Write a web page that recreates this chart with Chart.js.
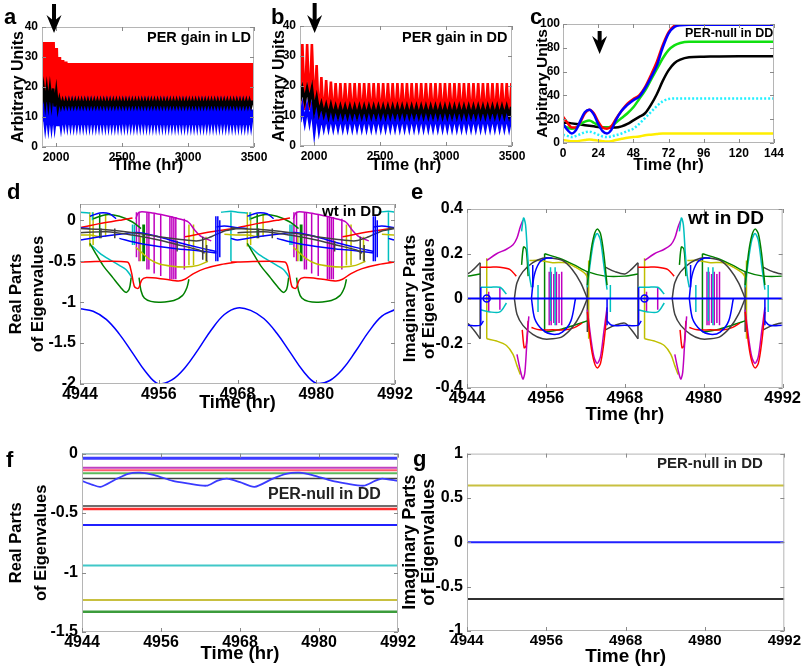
<!DOCTYPE html>
<html>
<head>
<meta charset="utf-8">
<script src="https://cdn.jsdelivr.net/npm/chart.js@4.4.1/dist/chart.umd.min.js"></script>
<style>
  body { margin: 0; background: #fff; width: 802px; height: 671px; position: relative; overflow: hidden;
         font-family: "Liberation Sans", Arial, Helvetica, sans-serif; }
  canvas { position: absolute; }
  .lbl { position: absolute; font-weight: bold; line-height: 1; white-space: nowrap; color: #000; }
</style>
</head>
<body>
<canvas id="pa"></canvas>
<canvas id="pb"></canvas>
<canvas id="pc"></canvas>
<canvas id="pd"></canvas>
<canvas id="pe"></canvas>
<canvas id="pf"></canvas>
<canvas id="pg"></canvas>

<div class="lbl" style="left:4px;top:6px;font-size:22px">a</div>
<div class="lbl" style="left:271px;top:6px;font-size:22px">b</div>
<div class="lbl" style="left:530px;top:6px;font-size:22px">c</div>
<div class="lbl" style="left:7px;top:181px;font-size:22px">d</div>
<div class="lbl" style="left:411px;top:181px;font-size:22px">e</div>
<div class="lbl" style="left:6px;top:449px;font-size:22px">f</div>
<div class="lbl" style="left:413px;top:448px;font-size:22px">g</div>

<div class="lbl" style="left:147px;top:30px;font-size:14.5px">PER gain in LD</div>
<div class="lbl" style="left:402px;top:30px;font-size:14.5px">PER gain in DD</div>
<div class="lbl" style="left:685px;top:27px;font-size:12.5px">PER-null in DD</div>
<div class="lbl" style="left:322px;top:203px;font-size:15px">wt in DD</div>
<div class="lbl" style="left:688px;top:208px;font-size:19px">wt in DD</div>
<div class="lbl" style="left:268px;top:486px;font-size:16px;color:#222">PER-null in DD</div>
<div class="lbl" style="left:657px;top:455px;font-size:15px;color:#222">PER-null in DD</div>

<script>
// ---------- a: PER gain in LD (peak / trough per 24 h cycle, last value holds) ----------
const aStart = 1894, aPeriod = 24, aCycles = 67;
const aRedPeaks     = [35, 35, 35, 35, 33, 30, 29, 28.5, 28];
const aRedTroughs   = [13, 13, 13, 13, 13, 11.5, 13, 13.5, 14];
const aBlackPeaks   = [19.5, 19.5, 19.5, 19.5, 18.5, 16, 15.5, 15.5];
const aBlackTroughs = [14.5, 14.5, 14.5, 14.5, 13.5, 13, 13.5, 13.5];
const aBluePeaks    = [13.5, 13.5, 13.5, 13.5, 13, 12, 12, 12.5];
const aBlueTroughs  = [8.5, 8.5, 8.5, 8.5, 8.5, 7, 8, 8.5];

// ---------- b: PER gain in DD ----------
const bStart = 1894, bPeriod = 36, bCycles = 45;
const bRedPeaks     = [34, 34, 34, 27, 23, 22, 21.5, 21];
const bRedTroughs   = [12, 12, 12, 12, 8, 8.5, 9, 9];
const bBlackPeaks   = [19, 19, 19, 16, 14, 13.5, 13.5, 13];
const bBlackTroughs = [15, 15, 15, 12, 11, 10.5, 10, 10];
const bBluePeaks    = [13, 13, 13, 12, 10, 10, 10];
const bBlueTroughs  = [8, 8, 8, 5, 5.5, 6, 6];

// ---------- c: PER-null in DD ----------
const cHours  = [0, 3, 6, 9, 12, 15, 18, 21, 24, 27, 30, 33, 36, 40, 44, 48, 52, 56, 60, 64, 68, 72, 76, 80, 86, 96, 120, 144];
const cRed    = [22, 17, 13, 13, 18, 25, 28, 25, 18, 13, 12, 14, 20, 27, 33, 37, 40, 47, 57, 68, 82, 93, 98.5, 100, 100, 100, 100, 100];
const cBlue   = [16, 11, 8, 11, 19, 26, 28, 24, 16, 10, 8, 11, 19, 27, 32, 36, 39, 46, 55, 65, 80, 92, 97.5, 99, 99.3, 99.3, 99.3, 99.3];
const cGreen  = [15, 13, 12, 13, 16, 18, 19, 17, 15, 13, 13, 14, 17, 21, 25, 30, 37, 44, 53, 62, 71, 78, 82, 84, 85, 85, 85, 85];
const cBlack  = [17, 17, 16.5, 16, 15.5, 15, 14.5, 14, 13.5, 13, 13, 13, 13, 14, 16, 19, 22, 25, 32, 41, 52, 61, 67, 70, 72, 72.5, 73, 73];
const cCyan   = [7, 6, 5, 6, 7.5, 9, 9.5, 8.5, 7, 5.5, 5, 5.5, 6.5, 8, 10, 12, 16, 21, 26, 31, 35, 37, 37.5, 37.5, 37.5, 37.5, 37.5, 37.5];
const cYellow = [2.5, 2, 1.5, 1.5, 2, 2.5, 3, 2.5, 2, 1.5, 1.2, 1.5, 2.5, 3.5, 4.5, 5, 5.5, 6.5, 7, 7.5, 8, 8, 8, 8, 8, 8, 8, 8];

// ---------- d: real parts, wt in DD (hours within one 24 h cycle from 4944) ----------
const dSineHours  = [4944, 4946, 4948, 4950, 4952, 4954, 4956, 4958, 4960, 4962, 4964, 4966, 4968, 4970, 4972, 4974, 4976, 4978, 4980, 4982, 4984, 4986, 4988, 4990, 4992];
const dSineValues = [-1.08, -1.11, -1.21, -1.39, -1.62, -1.85, -2.0, -1.95, -1.8, -1.58, -1.34, -1.15, -1.07, -1.1, -1.2, -1.38, -1.61, -1.84, -1.99, -1.96, -1.82, -1.6, -1.36, -1.17, -1.09];
const dRedLowH    = [-1, 0, 7.2, 7.8, 8.3, 8.9, 9.4, 10, 13, 15, 16, 17.3, 19, 21.5, 24];
const dRedLowV    = [-0.51, -0.51, -0.51, -0.62, -0.81, -0.83, -0.73, -0.7, -0.72, -0.74, -0.72, -0.65, -0.59, -0.54, -0.51];
const dGreenAH    = [1.5, 2.5, 3.5, 5, 6.2, 7, 7.5, 7.8];
const dGreenAV    = [-0.28, -0.42, -0.55, -0.7, -0.82, -0.88, -0.84, -0.7];
const dGreenBH    = [9.0, 9.3, 9.8, 10.8, 12.3, 14.3, 15.6, 16.3, 16.6];
const dGreenBV    = [-0.7, -0.86, -0.95, -0.99, -1.0, -0.98, -0.92, -0.82, -0.72];
const dCyanLowH   = [1.8, 3, 4.5, 6, 7, 7.5, 7.9];
const dCyanLowV   = [-0.31, -0.4, -0.48, -0.55, -0.6, -0.65, -0.7];
const dGrayAH     = [-1, 0, 3, 6, 9, 12, 15, 18, 20, 22, 24];
const dGrayAV     = [-0.09, -0.1, -0.11, -0.13, -0.16, -0.2, -0.23, -0.25, -0.2, -0.13, -0.1];
const dGrayBH     = [0, 4, 8, 12, 15, 18, 19];
const dGrayBV     = [-0.15, -0.14, -0.18, -0.24, -0.3, -0.36, -0.4];
const dBlueAH     = [-1, 0, 3, 6, 9, 12, 15, 18, 20.8];
const dBlueAV     = [-0.22, -0.24, -0.2, -0.17, -0.15, -0.2, -0.27, -0.33, -0.38];
const dBlueBH     = [6, 9, 12, 15, 18, 20.8];
const dBlueBV     = [-0.22, -0.28, -0.32, -0.35, -0.37, -0.4];
const dBlueCH     = [20.8, 22, 24, 25.5];
const dBlueCV     = [-0.08, -0.07, -0.09, -0.1];
const dBlueTopH   = [1.5, 3, 4.5, 5.5];
const dBlueTopV   = [0.05, 0.09, 0.08, 0.02];
const dMagTopH    = [8.5, 9, 11, 13, 15, 16.5, 17.5, 18.5, 20];
const dMagTopV    = [0.02, 0.1, 0.09, 0.06, 0.02, -0.02, -0.12, -0.2, -0.25];
const dOliveH     = [8.5, 9.5, 10.5, 12, 14, 16, 18, 19.5];
const dOliveV     = [-0.33, -0.4, -0.47, -0.53, -0.56, -0.57, -0.55, -0.5];
const dOliveTopH  = [-2, 0, 1.5, 3];
const dOliveTopV  = [-0.17, -0.18, -0.18, -0.2];
const dCyanTopH   = [21.5, 23, 24, 25.5];
const dCyanTopV   = [0.1, 0.11, 0.1, 0.09];
const dRedTopH    = [-8, -4, 0, 3, 6, 8];
const dRedTopV    = [-0.2, -0.14, -0.09, -0.04, 0.0, 0.03];
const dGreenTopH  = [2, 4, 6, 8, 9.3];
const dGreenTopV  = [0.02, 0.07, 0.05, -0.02, -0.1];
// vertical jumps: [hour, upper, lower]
const dMagStripes   = [[8.6, 0.1, -0.45], [9.0, 0.1, -0.5], [10.2, 0.09, -0.6], [10.5, 0.09, -0.6], [11.3, 0.08, -0.65], [12.3, 0.07, -0.68], [13.7, 0.05, -0.72], [14.0, 0.05, -0.72], [14.3, 0.04, -0.72], [14.6, 0.04, -0.72], [15.9, 0.02, -0.6]];
const dOliveStripes = [[1.5, 0.1, -0.32], [2.0, 0.1, -0.3], [3.9, 0.08, -0.2], [9.2, -0.2, -0.5], [16.6, -0.05, -0.55], [17.3, -0.05, -0.55], [19.2, -0.2, -0.5]];
const dGreenStripes = [[9.6, -0.05, -0.5], [9.8, -0.05, -0.5], [3.0, 0.08, -0.22]];
const dCyanStripes  = [[8.0, -0.05, -0.3], [8.3, -0.05, -0.3], [23.0, 0.1, -0.5], [1.9, 0.1, 0.0]];
const dBlueStripes  = [[20.7, 0.05, -0.5], [21.0, 0.05, -0.5], [21.3, 0.0, -0.45]];
const dGrayStripes  = [[3.2, -0.1, -0.22], [5.3, -0.1, -0.22], [14.8, -0.25, -0.38], [18.7, -0.2, -0.48], [19.3, -0.3, -0.5]];

// ---------- e: imaginary parts, wt in DD ----------
const eBlackTopH = [-3, -1.5, 0, 1, 2];
const eBlackTopV = [0.14, 0.12, 0.11, 0.13, 0.16];
const eBlackBotH = [-3, -1.5, 0, 1, 2];
const eBlackBotV = [-0.14, -0.12, -0.11, -0.14, -0.18];
const eRingH     = [7.2, 7.6, 8.5, 10, 11.5, 13, 14.5, 16, 17.3, 18.3];
const eRingTopV  = [0, 0.07, 0.12, 0.16, 0.18, 0.18, 0.17, 0.13, 0.07, 0];
const eRingBotV  = [0, -0.07, -0.12, -0.16, -0.18, -0.18, -0.17, -0.13, -0.07, 0];
const eBlueTopH  = [9.8, 10.2, 11, 12, 13];
const eBlueTopV  = [0, 0.1, 0.16, 0.18, 0.18];
const eBlueBotH  = [9.8, 10.3, 11.5, 13, 14.5, 15.8, 16.5];
const eBlueBotV  = [0, -0.09, -0.14, -0.16, -0.15, -0.1, 0];
const eBlueLowH  = [21.3, 22, 24, 26, 26.5];
const eBlueLowV  = [-0.1, -0.12, -0.12, -0.12, -0.1];
const eMagTopH   = [3, 4.5, 6, 7, 7.6, 8.1, 8.5];
const eMagTopV   = [0.17, 0.2, 0.22, 0.24, 0.27, 0.32, 0.35];
const eCyanSpkH  = [8.3, 8.6, 8.9, 9.2, 9.5, 9.8];
const eCyanSpkV  = [0.3, 0.36, 0.33, 0.2, 0.1, 0.05];
const eMagBotH   = [7.6, 8.1, 8.5, 8.8, 9.1, 9.4];
const eMagBotV   = [-0.25, -0.32, -0.36, -0.33, -0.2, -0.08];
const eOliveBotH = [3, 4.5, 6, 7, 7.6, 8.1];
const eOliveBotV = [-0.18, -0.19, -0.21, -0.25, -0.3, -0.34];
const eGreenSpkH = [8.3, 8.6, 9.0, 9.3];
const eGreenSpkV = [0.15, 0.23, 0.22, 0.1];
const eRedSpkH   = [8.4, 8.7, 9.0, 9.3];
const eRedSpkV   = [-0.14, -0.22, -0.21, -0.1];
const eLensH     = [18.3, 18.8, 19.3, 19.8, 20.3, 20.8, 21.3];
const eGreenLens = [0.06, 0.2, 0.28, 0.31, 0.29, 0.2, 0.06];
const eCyanLens  = [0.05, 0.17, 0.26, 0.29, 0.26, 0.15, 0.04];
const eRedLens   = [-0.06, -0.2, -0.28, -0.31, -0.29, -0.2, -0.06];
const eMagLens   = [-0.05, -0.17, -0.26, -0.29, -0.26, -0.15, -0.04];
const eOliveTopH = [9.5, 11, 13, 15, 16.5, 18, 18.5];
const eOliveTopV = [0.17, 0.17, 0.16, 0.16, 0.14, 0.11, 0.08];
const eRedTopH   = [2, 3.5, 5, 6.5, 7.5];
const eRedTopV   = [0.14, 0.14, 0.14, 0.13, 0.1];
const eRedBotH   = [9.8, 11, 13, 15, 16.3, 17.5];
const eRedBotV   = [-0.13, -0.14, -0.14, -0.14, -0.13, -0.11];
const eCyanMidH  = [2, 3.5, 5, 6];
const eCyanMidTV = [0.05, 0.05, 0.05, 0.02];
const eCyanMidBV = [-0.05, -0.06, -0.06, -0.02];
const eGreenTopH = [11.8, 14, 16.3, 18.3, 21, 24, 26];
const eGreenTopV = [0.2, 0.18, 0.15, 0.12, 0.1, 0.1, 0.11];
const eGreenBotH = [11.8, 14, 16.3, 18.3];
const eGreenBotV = [-0.15, -0.14, -0.12, -0.1];
const eRingHours = [3.0];
const eBlackStripes = [[2.0, 0.16, -0.18], [18.3, 0.12, -0.15]];
const eOliveStripes = [[3.0, 0.18, -0.18], [18.5, 0.17, -0.18]];
const eMagStripes   = [[12.5, 0.12, -0.12], [12.8, 0.12, -0.12], [13.2, 0.11, -0.11], [13.6, 0.12, -0.12], [14.0, 0.11, -0.11], [14.4, 0.12, -0.12], [3.3, 0.03, -0.06], [5.0, 0.05, -0.05]];
const eCyanStripes  = [[12.7, 0.14, -0.1], [13.4, 0.14, -0.12], [10.8, 0.06, -0.06], [21.8, 0.06, -0.06]];
const eBlueStripes  = [[2.1, 0.05, -0.12], [21.3, 0.0, -0.12], [10.0, 0.15, 0.05]];
const eGreenStripes = [[11.8, 0.2, -0.15]];

// ---------- f / g: PER-null in DD ----------
const fLevels = [0, -0.04, -0.12, -0.14, -0.165, -0.21, -0.44, -0.465, -0.6, -0.94, -1.23, -1.33];
const fWaveHours  = [4944, 4945.5, 4946.8, 4949, 4951, 4952.8, 4955, 4957.8, 4960, 4962.9, 4964.5, 4966, 4968, 4970.2, 4973, 4975, 4977, 4979, 4982, 4984, 4986.8, 4988.5, 4989.6, 4992];
const fWaveValues = [-0.23, -0.26, -0.28, -0.22, -0.17, -0.16, -0.18, -0.23, -0.25, -0.27, -0.23, -0.21, -0.24, -0.28, -0.21, -0.17, -0.16, -0.18, -0.23, -0.25, -0.27, -0.23, -0.21, -0.23];
const gLevels = [0.64, 0, -0.64];

// ---------- styling ----------
const FONT = '"Liberation Sans", Arial, Helvetica, sans-serif';
const RED = '#ff0000', BLUE = '#0000ff', GREEN = '#008000', CYAN = '#00bfbf',
      MAG = '#bf00bf', OLIVE = '#bfbf00', GRAY = '#404040';
const fColors = ['#3a9c9c', '#3d3dff', '#c040c0', '#ff5a6e', '#5cb85c', '#404040', '#404040', '#ff3030', '#2020ff', '#40c8c8', '#c8c040', '#3c9c3c'];
const fWidths = [1.5, 3, 2, 2, 2, 1.5, 1.5, 2.5, 2, 2, 2, 2.5];
const gColors = ['#c8c040', '#2020ff', '#303030'];

function cyclePoints(start, period, count, peaks, troughs) {
  const pts = [];
  for (let k = 0; k < count; k++) {
    const pk = peaks[Math.min(k, peaks.length - 1)];
    const tr = troughs[Math.min(k, troughs.length - 1)];
    pts.push({ x: start + k * period, y: tr });
    pts.push({ x: start + k * period + period / 2, y: pk });
  }
  return pts;
}

// the eigenvalue traces repeat every 24 h, so each cycle is laid down at every offset
const OFFSETS = [-24, 0, 24, 48];
function periodic(hours, values) {
  const pts = [];
  OFFSETS.forEach(o => {
    hours.forEach((h, i) => pts.push({ x: 4944 + o + h, y: values[i] }));
    pts.push({ x: 4944 + o + hours[hours.length - 1], y: null });
  });
  return pts;
}
function stripes(list) {
  const pts = [];
  OFFSETS.forEach(o => list.forEach(([h, top, bot]) => {
    pts.push({ x: 4944 + o + h, y: top }, { x: 4944 + o + h, y: bot }, { x: 4944 + o + h, y: null });
  }));
  return pts;
}
function pairs(xs, ys) { return xs.map((x, i) => ({ x, y: ys[i] })); }

function line(data, color, width, extra) {
  return Object.assign({ data, borderColor: color, backgroundColor: color, borderWidth: width,
    pointRadius: 0, fill: false, tension: 0, spanGaps: false }, extra || {});
}

const framePlugin = {
  id: 'frame',
  afterDatasetsDraw(chart) {
    const { ctx, chartArea: a, scales } = chart;
    ctx.save();
    ctx.strokeStyle = '#b5b5b5';
    ctx.lineWidth = 1;
    ctx.strokeRect(a.left + 0.5, a.top + 0.5, a.right - a.left - 1, a.bottom - a.top - 1);
    ctx.strokeStyle = '#8a8a8a';
    ctx.beginPath();
    scales.x.ticks.forEach(t => {
      const px = Math.round(scales.x.getPixelForValue(t.value)) + 0.5;
      ctx.moveTo(px, a.bottom); ctx.lineTo(px, a.bottom - 4);
      ctx.moveTo(px, a.top); ctx.lineTo(px, a.top + 4);
    });
    scales.y.ticks.forEach(t => {
      const py = Math.round(scales.y.getPixelForValue(t.value)) + 0.5;
      ctx.moveTo(a.left, py); ctx.lineTo(a.left + 4, py);
      ctx.moveTo(a.right, py); ctx.lineTo(a.right - 4, py);
    });
    ctx.stroke();
    ctx.restore();
  }
};

// heavy down arrow marking the change of conditions
const arrowPlugin = {
  id: 'arrowMark',
  afterDraw(chart, args, opts) {
    if (!opts || opts.x === undefined) return;
    const { ctx } = chart;
    const x = chart.scales.x.getPixelForValue(opts.x);
    ctx.save();
    ctx.fillStyle = '#000';
    ctx.fillRect(x - 2, opts.top, 4, opts.tip - opts.top - 10);
    ctx.beginPath();
    ctx.moveTo(x, opts.tip);
    ctx.lineTo(x - 7.5, opts.tip - 18);
    ctx.lineTo(x, opts.tip - 12);
    ctx.lineTo(x + 7.5, opts.tip - 18);
    ctx.closePath();
    ctx.fill();
    ctx.restore();
  }
};

function makePanel(id, box, plot, cfg) {
  const cv = document.getElementById(id);
  cv.width = box.w; cv.height = box.h;
  cv.style.left = box.x + 'px'; cv.style.top = box.y + 'px';
  cv.style.width = box.w + 'px'; cv.style.height = box.h + 'px';
  const fontOf = (size) => ({ family: FONT, size, weight: 'bold' });
  return new Chart(cv, {
    type: 'line',
    data: { datasets: cfg.datasets },
    options: {
      responsive: false, animation: false, devicePixelRatio: 1,
      layout: { padding: { top: plot.top - box.y, right: box.x + box.w - plot.right, left: 0, bottom: 0 } },
      plugins: { legend: { display: false }, tooltip: { enabled: false }, arrowMark: cfg.arrow || {} },
      scales: {
        x: {
          type: 'linear', min: cfg.xMin, max: cfg.xMax,
          afterFit: s => { s.height = box.y + box.h - plot.bottom; },
          afterBuildTicks: s => { s.ticks = cfg.xTicks.map(v => ({ value: v })); },
          grid: { display: false, drawTicks: false }, border: { display: false },
          ticks: { font: fontOf(cfg.xTickSize), color: '#000', padding: cfg.xTickPad, maxRotation: 0,
                   autoSkip: false, callback: v => String(v) },
          title: { display: true, text: 'Time (hr)', font: fontOf(cfg.xTitleSize), color: '#000',
                   padding: { top: 0, bottom: 0 } }
        },
        y: {
          type: 'linear', min: cfg.yMin, max: cfg.yMax,
          afterFit: s => { s.width = plot.left - box.x; },
          afterBuildTicks: s => { s.ticks = cfg.yTicks.map(v => ({ value: v })); },
          grid: { display: false, drawTicks: false }, border: { display: false },
          ticks: { font: fontOf(cfg.yTickSize), color: '#000', padding: cfg.yTickPad, autoSkip: false,
                   callback: v => String(v) },
          title: { display: true, text: cfg.yTitle, font: Object.assign(fontOf(cfg.yTitleSize), { lineHeight: cfg.yTitleLH || 1.2 }),
                   color: '#000', padding: { top: cfg.yTitlePad, bottom: 0 } }
        }
      }
    },
    plugins: [framePlugin, arrowPlugin]
  });
}

// a
makePanel('pa', { x: 0, y: 0, w: 282, h: 175 }, { left: 42, top: 27, right: 254, bottom: 147 }, {
  xMin: aStart, xMax: 3500, xTicks: [2000, 2500, 3000, 3500],
  yMin: 0, yMax: 40, yTicks: [0, 10, 20, 30, 40],
  xTickSize: 12, yTickSize: 12, xTickPad: 3, yTickPad: 4, xTitleSize: 16.5,
  yTitle: 'Arbitrary Units', yTitleSize: 16, yTitlePad: 9,
  arrow: { x: 1985, top: 4, tip: 33 },
  datasets: [
    line(cyclePoints(aStart, aPeriod, aCycles, aBlackPeaks, aBlackTroughs), '#000', 2.6),
    line(cyclePoints(aStart, aPeriod, aCycles, aBluePeaks, aBlueTroughs), BLUE, 3.8),
    line(cyclePoints(aStart, aPeriod, aCycles, aRedPeaks, aRedTroughs), RED, 3.6)
  ]
});

// b
makePanel('pb', { x: 263, y: 0, w: 282, h: 175 }, { left: 300, top: 26, right: 512, bottom: 146 }, {
  xMin: bStart, xMax: 3500, xTicks: [2000, 2500, 3000, 3500],
  yMin: 0, yMax: 40, yTicks: [0, 10, 20, 30, 40],
  xTickSize: 12, yTickSize: 12, xTickPad: 3, yTickPad: 4, xTitleSize: 16.5,
  yTitle: 'Arbitrary Units', yTitleSize: 16, yTitlePad: 7,
  arrow: { x: 2005, top: 3, tip: 33 },
  datasets: [
    line(cyclePoints(bStart, bPeriod, bCycles, bBlackPeaks, bBlackTroughs), '#000', 3),
    line(cyclePoints(bStart, bPeriod, bCycles, bBluePeaks, bBlueTroughs), BLUE, 3),
    line(cyclePoints(bStart, bPeriod, bCycles, bRedPeaks, bRedTroughs), RED, 2.6)
  ]
});

// c
const smooth = { tension: 0.4, cubicInterpolationMode: 'monotone' };
makePanel('pc', { x: 527, y: 0, w: 275, h: 175 }, { left: 563, top: 24, right: 774, bottom: 143 }, {
  xMin: 0, xMax: 144, xTicks: [0, 24, 48, 72, 96, 120, 144],
  yMin: 0, yMax: 100, yTicks: [0, 20, 40, 60, 80, 100],
  xTickSize: 12, yTickSize: 12, xTickPad: 3, yTickPad: 3, xTitleSize: 16.5,
  yTitle: 'Arbitrary Units', yTitleSize: 15.5, yTitlePad: 6,
  arrow: { x: 25, top: 31, tip: 54 },
  datasets: [
    line(pairs(cHours, cBlue), BLUE, 2.5, smooth),
    line(pairs(cHours, cRed), RED, 2.5, smooth),
    line(pairs(cHours, cGreen), '#10e010', 2.5, smooth),
    line(pairs(cHours, cBlack), '#000', 2.5, smooth),
    line(pairs(cHours, cCyan), '#20f0ff', 2.5, Object.assign({ borderDash: [2, 2] }, smooth)),
    line(pairs(cHours, cYellow), '#ffee00', 2.5, smooth)
  ]
});

// d
const curve = { tension: 0.3 };
makePanel('pd', { x: 0, y: 180, w: 420, h: 234 }, { left: 80, top: 204, right: 395, bottom: 384 }, {
  xMin: 4944, xMax: 4992, xTicks: [4944, 4956, 4968, 4980, 4992],
  yMin: -2, yMax: 0.2, yTicks: [0, -0.5, -1, -1.5, -2],
  xTickSize: 16, yTickSize: 16, xTickPad: 1, yTickPad: 4, xTitleSize: 18,
  yTitle: ['Real Parts', 'of Eigenvalues'], yTitleSize: 16.5, yTitleLH: 1.3, yTitlePad: 6,
  datasets: [
    line(pairs(dSineHours, dSineValues), BLUE, 1.5, { tension: 0.4 }),
    line(periodic(dRedLowH, dRedLowV), RED, 1.5, curve),
    line(periodic(dGreenAH, dGreenAV), GREEN, 1.5, curve),
    line(periodic(dGreenBH, dGreenBV), GREEN, 1.5, curve),
    line(periodic(dCyanLowH, dCyanLowV), CYAN, 1.5, curve),
    line(stripes(dBlueStripes), BLUE, 1.5),
    line(stripes(dGrayStripes), GRAY, 1.5),
    line(periodic(dGrayAH, dGrayAV), GRAY, 1.5, curve),
    line(periodic(dGrayBH, dGrayBV), GRAY, 1.5, curve),
    line(periodic(dBlueAH, dBlueAV), BLUE, 1.5, curve),
    line(periodic(dBlueBH, dBlueBV), BLUE, 1.5, curve),
    line(periodic(dBlueCH, dBlueCV), BLUE, 1.5, curve),
    line(periodic(dBlueTopH, dBlueTopV), BLUE, 1.5, curve),
    line(periodic(dRedTopH, dRedTopV), RED, 1.5, curve),
    line(periodic(dGreenTopH, dGreenTopV), GREEN, 1.5, curve),
    line(periodic(dMagTopH, dMagTopV), MAG, 1.5, curve),
    line(periodic(dOliveH, dOliveV), OLIVE, 1.5, curve),
    line(periodic(dOliveTopH, dOliveTopV), OLIVE, 1.5, curve),
    line(periodic(dCyanTopH, dCyanTopV), CYAN, 1.5, curve),
    line(stripes(dGreenStripes), GREEN, 1.5),
    line(stripes(dCyanStripes), CYAN, 1.5),
    line(stripes(dOliveStripes), OLIVE, 1.5),
    line(stripes(dMagStripes), MAG, 1.5)
  ]
});

// e
makePanel('pe', { x: 400, y: 180, w: 402, h: 246 }, { left: 467, top: 209, right: 785, bottom: 388 }, {
  xMin: 4944, xMax: 4992, xTicks: [4944, 4956, 4968, 4980, 4992],
  yMin: -0.4, yMax: 0.4, yTicks: [0.4, 0.2, 0, -0.2, -0.4],
  xTickSize: 16.5, yTickSize: 16, xTickPad: 1, yTickPad: 4, xTitleSize: 18.5,
  yTitle: ['Imaginary Parts', 'of EigenValues'], yTitleSize: 17, yTitleLH: 1.1, yTitlePad: 1,
  datasets: [
    line([{ x: 4944, y: 0 }, { x: 4992, y: 0 }], BLUE, 2),
    line(eRingHours.flatMap(h => [{ x: 4944 + h, y: 0 }, { x: 4968 + h, y: 0 }]), BLUE, 1.5,
         { showLine: false, pointRadius: 3.5, pointBorderWidth: 1.5, pointBorderColor: BLUE, pointBackgroundColor: 'rgba(0,0,0,0)' }),
    line(periodic(eBlueTopH, eBlueTopV), BLUE, 1.5, curve),
    line(periodic(eBlueBotH, eBlueBotV), BLUE, 1.5, curve),
    line(periodic(eBlueLowH, eBlueLowV), BLUE, 1.5, curve),
    line(stripes(eBlueStripes), BLUE, 1.5),
    line(periodic(eLensH, eGreenLens), GREEN, 1.5, curve),
    line(periodic(eLensH, eCyanLens), CYAN, 1.5, curve),
    line(periodic(eLensH, eRedLens), RED, 1.5, curve),
    line(periodic(eLensH, eMagLens), MAG, 1.5, curve),
    line(periodic(eCyanSpkH, eCyanSpkV), CYAN, 1.5, curve),
    line(periodic(eMagTopH, eMagTopV), MAG, 1.5, curve),
    line(periodic(eMagBotH, eMagBotV), MAG, 1.5, curve),
    line(periodic(eOliveBotH, eOliveBotV), OLIVE, 1.5, curve),
    line(periodic(eGreenSpkH, eGreenSpkV), GREEN, 1.5, curve),
    line(periodic(eRedSpkH, eRedSpkV), RED, 1.5, curve),
    line(periodic(eRingH, eRingTopV), GRAY, 1.5, curve),
    line(periodic(eRingH, eRingBotV), GRAY, 1.5, curve),
    line(periodic(eBlackTopH, eBlackTopV), GRAY, 1.5, curve),
    line(periodic(eBlackBotH, eBlackBotV), GRAY, 1.5, curve),
    line(periodic(eOliveTopH, eOliveTopV), OLIVE, 1.5, curve),
    line(periodic(eRedTopH, eRedTopV), RED, 1.5, curve),
    line(periodic(eRedBotH, eRedBotV), RED, 1.5, curve),
    line(periodic(eCyanMidH, eCyanMidTV), CYAN, 1.5, curve),
    line(periodic(eCyanMidH, eCyanMidBV), CYAN, 1.5, curve),
    line(periodic(eGreenTopH, eGreenTopV), GREEN, 1.5, curve),
    line(periodic(eGreenBotH, eGreenBotV), GREEN, 1.5, curve),
    line(stripes(eBlackStripes), GRAY, 1.5),
    line(stripes(eOliveStripes), OLIVE, 1.5),
    line(stripes(eGreenStripes), GREEN, 1.5),
    line(stripes(eCyanStripes), CYAN, 1.5),
    line(stripes(eMagStripes), MAG, 1.5)
  ]
});

// f
makePanel('pf', { x: 0, y: 440, w: 420, h: 225 }, { left: 82, top: 450, right: 398, bottom: 632 }, {
  xMin: 4944, xMax: 4992, xTicks: [4944, 4956, 4968, 4980, 4992],
  yMin: -1.5, yMax: 0, yTicks: [0, -0.5, -1, -1.5],
  xTickSize: 16, yTickSize: 16, xTickPad: 1, yTickPad: 4, xTitleSize: 18.5,
  yTitle: ['Real Parts', 'of Eigenvalues'], yTitleSize: 16.5, yTitleLH: 1.5, yTitlePad: 4,
  datasets: [
    line(pairs(fWaveHours, fWaveValues), '#3a3aff', 1.8, { tension: 0.25 })
  ].concat(fLevels.map((v, i) => line([{ x: 4944, y: v }, { x: 4992, y: v }], fColors[i], fWidths[i])))
});

// g
makePanel('pg', { x: 400, y: 440, w: 402, h: 228 }, { left: 467, top: 450, right: 786, bottom: 631 }, {
  xMin: 4944, xMax: 4992, xTicks: [4944, 4956, 4968, 4980, 4992],
  yMin: -1, yMax: 1, yTicks: [1, 0.5, 0, -0.5, -1],
  xTickSize: 15, yTickSize: 16, xTickPad: 1, yTickPad: 4, xTitleSize: 19,
  yTitle: ['Imaginary Parts', 'of Eigenvalues'], yTitleSize: 18, yTitleLH: 1.05, yTitlePad: 1,
  datasets: gLevels.map((v, i) => line([{ x: 4944, y: v }, { x: 4992, y: v }], gColors[i], 2))
});
</script>
</body>
</html>
